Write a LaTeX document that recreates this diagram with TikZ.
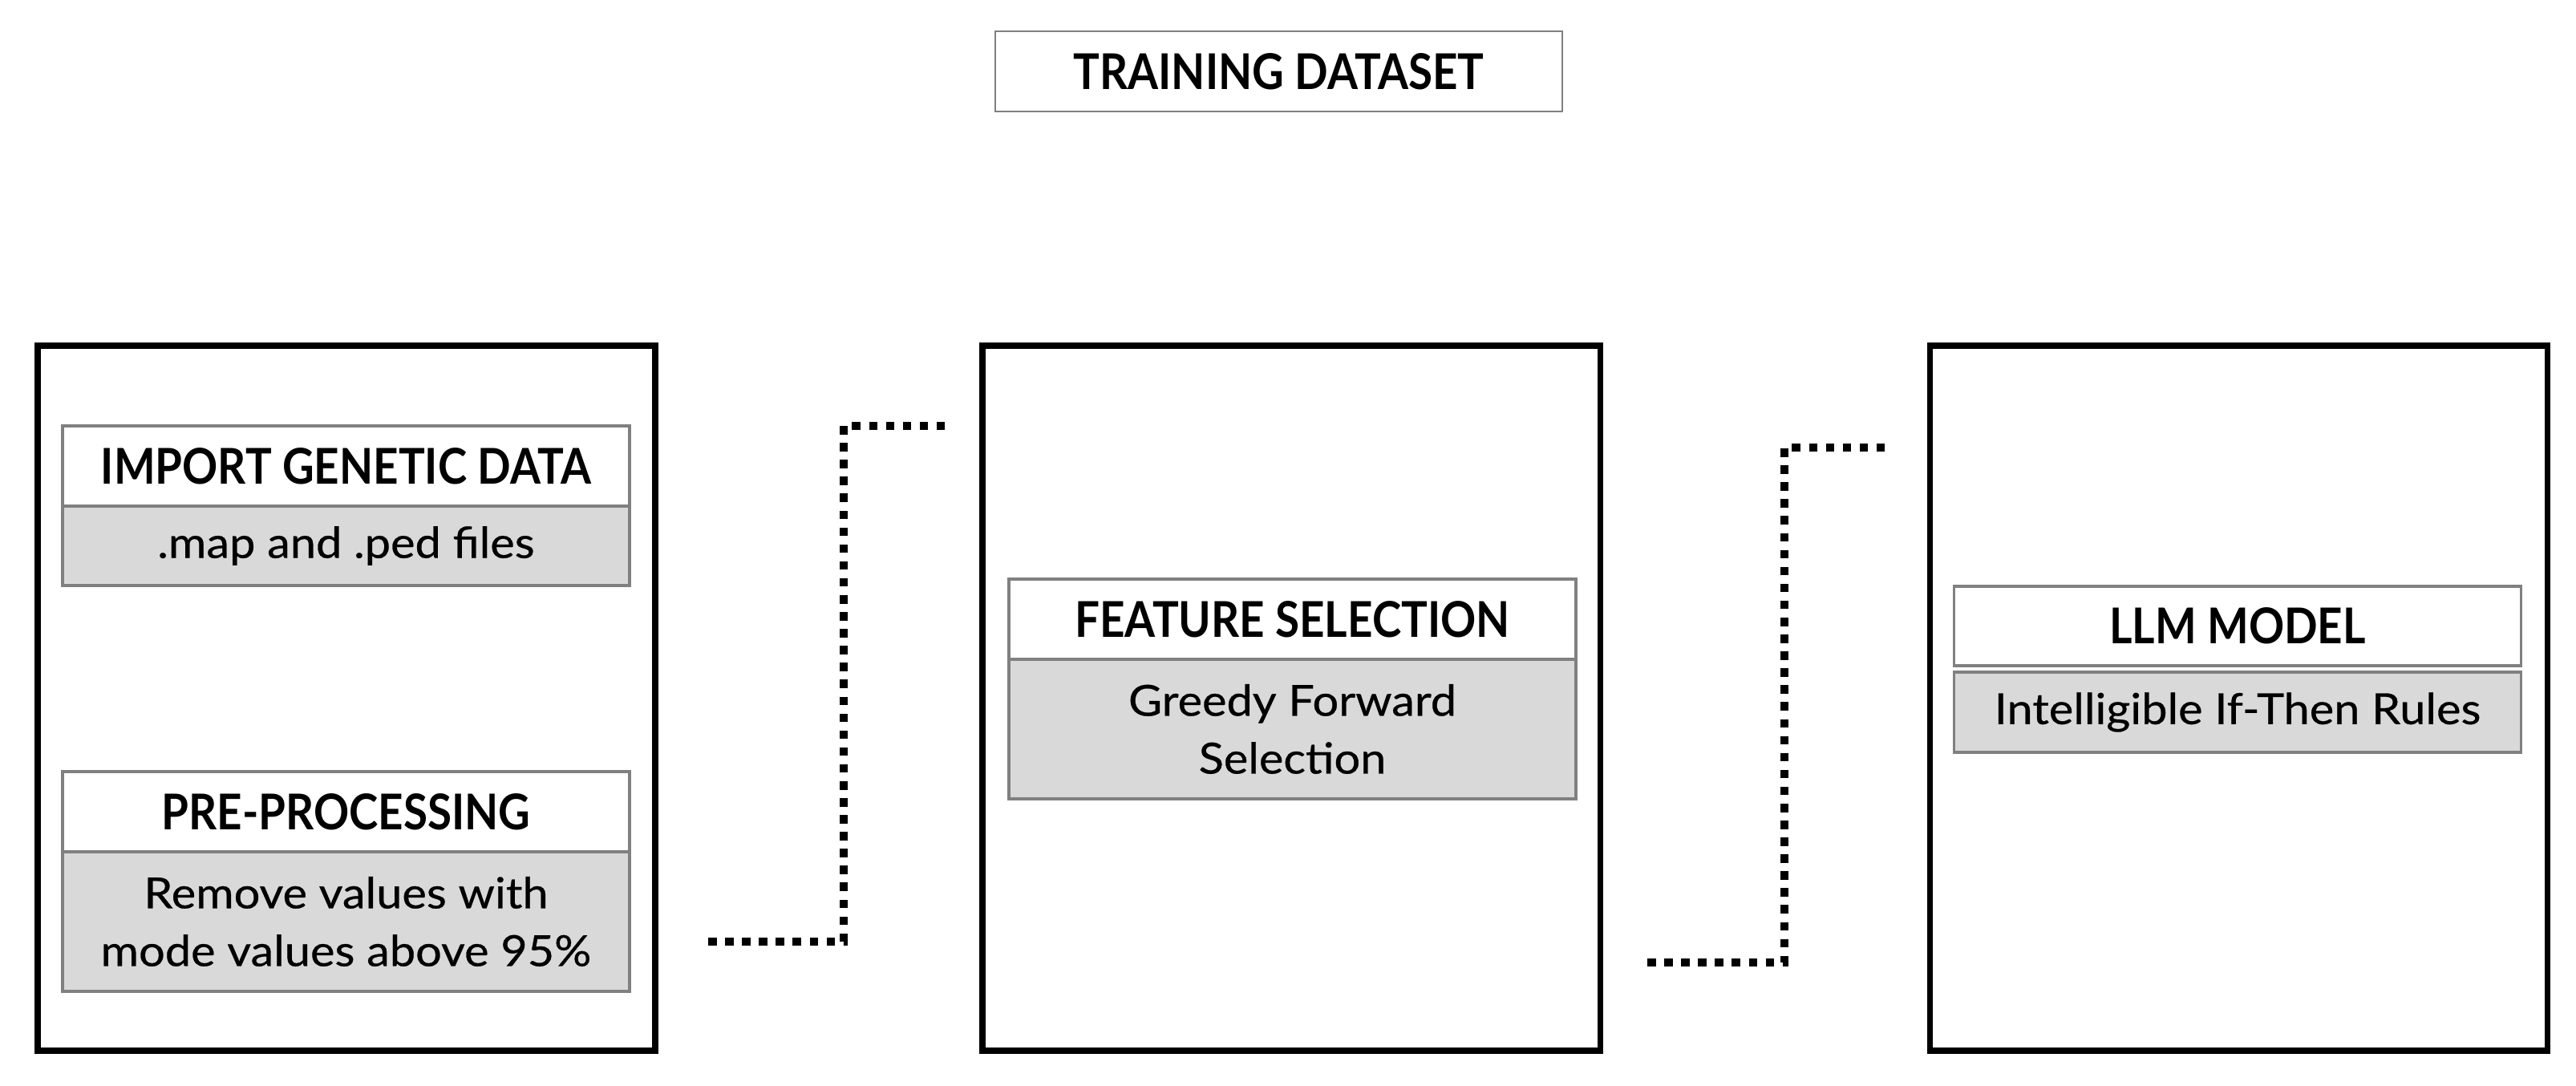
\documentclass[tikz,border=0pt]{standalone}
\usepackage{fontspec}
\setmainfont{Lato}
\newfontfamily\headFont[FakeStretch=0.89]{Lato}
\newfontfamily\bodyFont[FakeStretch=1.08, FakeBold=0.5]{Lato}
\usetikzlibrary{positioning}

\definecolor{edgeGray}{HTML}{808080}
\definecolor{fillGray}{HTML}{D9D9D9}

\tikzset{
	stageBox/.style={rectangle, draw, line width=2pt, minimum width=7.7cm, minimum height=8.79cm},
	headBox/.style={rectangle, draw=edgeGray, line width=1.1pt, outer sep=0pt, text centered, minimum width=7.07cm, minimum height=1cm, fill=white, font=\headFont\fontsize{17.5}{21}\selectfont\bfseries},
	bodyBox/.style={rectangle, draw=edgeGray, line width=1.1pt, outer sep=0pt, align=center, minimum width=7.07cm, fill=fillGray, font=\bodyFont\fontsize{15.2}{20.5}\selectfont},
	dotLine/.style={line width=3pt, dash pattern=on 3pt off 3pt}
}

\begin{document}
\begin{tikzpicture}
		
		\useasboundingbox (0,0) rectangle (32.12,13.53);
		
		%Title
		\node (trainingData) at (15.945,12.64) [headBox, line width=0.6pt]{TRAINING DATASET};
		
		%First stage
		\node (firstStage) at (4.32,4.825) [stageBox]{};
		
		\node (importHead) at (4.315,7.72) [headBox]{IMPORT GENETIC DATA};
		\node (importBody) [bodyBox, below=0pt of importHead, minimum height=0.99cm]{.map and .ped files};
		
		\node (preHead) at (4.315,3.41) [headBox]{PRE-PROCESSING};
		\node (preBody) [bodyBox, below=0pt of preHead, minimum height=1.74cm]{Remove values with\\mode values above 95\%};
		
		%Second stage
		\node (secondStage) at (16.10,4.825) [stageBox]{};
		
		\node (featureHead) at (16.115,5.81) [headBox]{FEATURE SELECTION};
		\node (featureBody) [bodyBox, below=0pt of featureHead, minimum height=1.74cm]{Greedy Forward\\Selection};
		
		%Third stage
		\node (thirdStage) at (27.91,4.825) [stageBox]{};
		
		\node (llmHead) at (27.90,5.725) [headBox, minimum height=0.99cm]{LLM MODEL};
		\node (llmBody) [bodyBox, below=0.08cm of llmHead, minimum height=1cm]{Intelligible If-Then Rules};
		
		%Dotted links
		\coordinate (firstLinkStart) at (8.83,1.79);
		\coordinate (firstLinkEnd) at (11.85,8.22);
		\draw[dotLine] (firstLinkStart) -- ++(1.69,0) |- (firstLinkEnd);
		
		\coordinate (secondLinkStart) at (20.54,1.53);
		\coordinate (secondLinkEnd) at (23.58,7.95);
		\draw[dotLine] (secondLinkStart) -- ++(1.71,0) |- (secondLinkEnd);
		
\end{tikzpicture}
\end{document}
